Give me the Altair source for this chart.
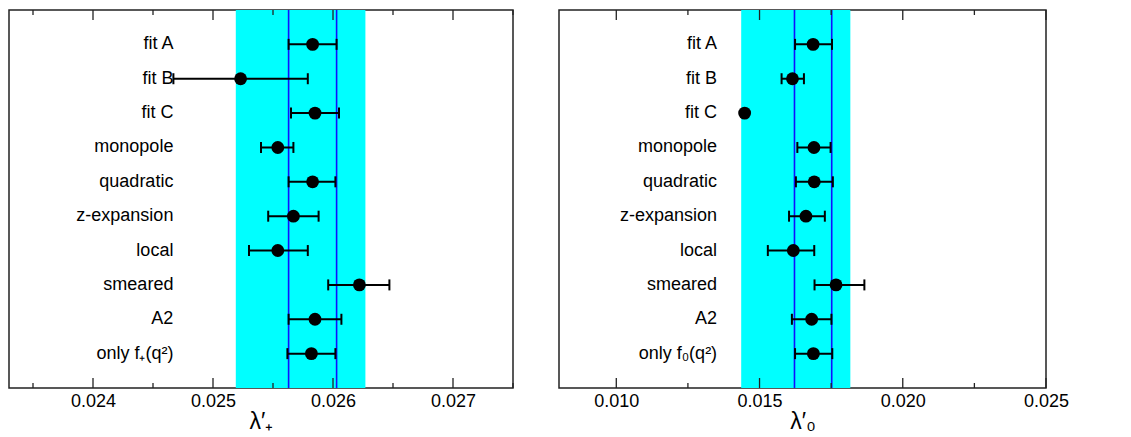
import altair as alt
import pandas as pd

# ---------------- data ----------------
labels_plus = ["fit A", "fit B", "fit C", "monopole", "quadratic", "z-expansion",
               "local", "smeared", "A2", "only f\u208a(q\u00b2)"]
labels_zero = ["fit A", "fit B", "fit C", "monopole", "quadratic", "z-expansion",
               "local", "smeared", "A2", "only f\u2080(q\u00b2)"]

lp_val = [0.02583, 0.02523, 0.02585, 0.02554, 0.02583, 0.02567, 0.02554, 0.02622, 0.02585, 0.02582]
lp_lo = [0.02563, 0.02467, 0.02565, 0.02540, 0.02563, 0.02546, 0.02530, 0.02596, 0.02563, 0.02562]
lp_hi = [0.02603, 0.02579, 0.02605, 0.02567, 0.02602, 0.02588, 0.02579, 0.02647, 0.02607, 0.02602]
band_plus = [0.02519, 0.02627]
lines_plus = [0.02563, 0.02603]

l0_val = [0.01687, 0.01615, 0.01448, 0.01690, 0.01691, 0.01662, 0.01618, 0.01767, 0.01682, 0.01688]
l0_lo = [0.01624, 0.01577, None, 0.01632, 0.01627, 0.01603, 0.01529, 0.01692, 0.01613, 0.01624]
l0_hi = [0.01753, 0.01655, None, 0.01748, 0.01756, 0.01728, 0.01691, 0.01866, 0.01751, 0.01754]
band_zero = [0.01436, 0.01817]
lines_zero = [0.01622, 0.01752]

major_plus = [0.024, 0.025, 0.026, 0.027]
minor_plus = [0.0235, 0.0245, 0.0255, 0.0265, 0.0275]
major_zero = [0.010, 0.015, 0.020, 0.025]
minor_zero = [0.0125, 0.0175, 0.0225]

FONT = "Liberation Sans"
H = 378


def panel(labels, val, lo, hi, band, lines, domain, major, minor, width, title, label_x):
    df = pd.DataFrame({"label": labels, "val": val, "lo": lo, "hi": hi})
    xscale = alt.Scale(domain=domain, nice=False, zero=False)
    yscale = alt.Scale(type="point", padding=1, domain=labels)
    xenc = alt.X("val:Q", scale=xscale,
                 axis=alt.Axis(values=major, format=".3f", grid=False, ticks=False,
                               domain=False, labelFont=FONT, labelFontSize=18,
                               labelColor="black", labelPadding=4, labelFlush=False,
                               labelOverlap=False, title=title, titleFont=FONT,
                               titleFontSize=23, titleFontWeight="normal",
                               titleColor="black", titlePadding=0))
    yenc = alt.Y("label:N", scale=yscale, axis=None)

    band_df = pd.DataFrame({"b0": [band[0]], "b1": [band[1]]})
    band_layer = alt.Chart(band_df).mark_rect(color="#00ffff").encode(
        x=alt.X("b0:Q", scale=xscale), x2="b1:Q", y=alt.value(0), y2=alt.value(H))

    line_df = pd.DataFrame({"v": lines})
    line_layer = alt.Chart(line_df).mark_rule(color="#1010ff", strokeWidth=1.6).encode(
        x=alt.X("v:Q", scale=xscale), y=alt.value(0), y2=alt.value(H))

    maj_df = pd.DataFrame({"t": major})
    min_df = pd.DataFrame({"t": minor})
    tick_layers = []
    for d, ln in [(maj_df, 10), (min_df, 5)]:
        tick_layers.append(alt.Chart(d).mark_rule(color="#222", strokeWidth=1.3).encode(
            x=alt.X("t:Q", scale=xscale), y=alt.value(0), y2=alt.value(ln)))
        tick_layers.append(alt.Chart(d).mark_rule(color="#222", strokeWidth=1.3).encode(
            x=alt.X("t:Q", scale=xscale), y=alt.value(H), y2=alt.value(H - ln)))

    base = alt.Chart(df)
    err = base.transform_filter("isValid(datum.lo)").mark_rule(
        color="black", strokeWidth=2).encode(
        x=alt.X("lo:Q", scale=xscale), x2="hi:Q", y=yenc)
    cap_lo = base.transform_filter("isValid(datum.lo)").mark_tick(
        color="black", size=11, thickness=2, opacity=1).encode(
        x=alt.X("lo:Q", scale=xscale), y=yenc)
    cap_hi = base.transform_filter("isValid(datum.hi)").mark_tick(
        color="black", size=11, thickness=2, opacity=1).encode(
        x=alt.X("hi:Q", scale=xscale), y=yenc)
    pts = base.mark_circle(color="black", size=165, opacity=1).encode(x=xenc, y=yenc)
    txt = base.mark_text(align="right", baseline="middle", font=FONT, fontSize=18,
                         color="black").encode(
        x=alt.datum(label_x), y=yenc, text="label:N")

    return alt.layer(band_layer, line_layer, *tick_layers, err, cap_lo, cap_hi, pts, txt).properties(
        width=width, height=H)


left = panel(labels_plus, lp_val, lp_lo, lp_hi, band_plus, lines_plus,
             [0.0233, 0.0275], major_plus, minor_plus, 504, "\u03bb\u2032\u208a", 0.02467)
right = panel(labels_zero, l0_val, l0_lo, l0_hi, band_zero, lines_zero,
              [0.008, 0.025], major_zero, minor_zero, 487, "\u03bb\u2032\u2080", 0.01352)

chart = alt.hconcat(left, right, spacing=43).configure_view(
    stroke="#222", strokeWidth=1.5).properties(background="white", padding=0)

chart.save("out.html", embed_options={"renderer": "svg", "actions": False})
